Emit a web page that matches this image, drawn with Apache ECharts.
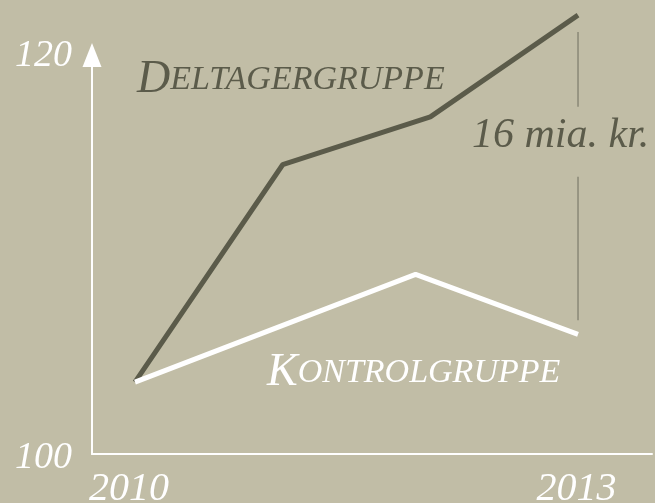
<!DOCTYPE html>
<html>
<head>
<meta charset="utf-8">
<script src="https://cdn.jsdelivr.net/npm/echarts@6/dist/echarts.min.js"></script>
<style>
html,body{margin:0;padding:0;background:#c1bda6;}
#chart{width:655px;height:503px;}
</style>
</head>
<body>
<div id="chart"></div>
<script>
// Data
const deltagerYears = [2010, 2011, 2012, 2013];
const deltagerValues = [103.6, 114.5, 116.9, 122.0];
const kontrolYears = [2010, 2011.9, 2013];
const kontrolValues = [103.6, 109.0, 106.0];
const xTickLabels = [2010, 2013];
const yTickLabels = [100, 120];
const gapLabel = '16 mia. kr.';
const deltagerName = 'Deltagergruppe';
const kontrolName = 'Kontrolgruppe';

const FONT = '"Liberation Serif", "DejaVu Serif", serif';
const BG = '#c1bda6';
const DARK = '#5b5b4a';
const BRACKET = '#8a8876';

function zip(xs, ys) { return xs.map((x, i) => [x, ys[i]]); }
function smallCaps(name) {
  return '{a|' + name[0].toUpperCase() + '}{b|' + name.slice(1).toUpperCase() + '}';
}

const chart = echarts.init(document.getElementById('chart'), null, {renderer: 'canvas'});
const lastX = deltagerYears[deltagerYears.length - 1];
const topV = deltagerValues[deltagerValues.length - 1];
const botV = kontrolValues[kontrolValues.length - 1];

function bracketSeries(a, b) {
  return {
    type: 'line', clip: false, symbol: 'none', silent: true, z: 1,
    data: [[lastX, a], [lastX, b]],
    lineStyle: {color: BRACKET, width: 1.5}
  };
}

const xLabelFont = {fontFamily: FONT, fontStyle: 'italic', fontSize: 40, color: '#ffffff'};
const yLabelFont = {fontFamily: FONT, fontStyle: 'italic', fontSize: 38, color: '#ffffff'};

chart.setOption({
  backgroundColor: BG,
  animation: false,
  grid: {left: 92, right: 3, top: 55, bottom: 49, containLabel: false, outerBoundsMode: 'none'},
  xAxis: {
    type: 'value', min: 2009.709, max: 2013.501,
    axisLine: {show: true, lineStyle: {color: '#ffffff', width: 2}},
    axisTick: {show: false},
    splitLine: {show: false},
    axisLabel: Object.assign({
      customValues: xTickLabels, margin: 15,
      formatter: v => (v === xTickLabels[0] ? '{first|' + v + '}' : '{t|' + v + '}'),
      rich: {
        first: Object.assign({padding: [0, 12, 0, 0]}, xLabelFont),
        t: Object.assign({padding: [0, 3, 0, 0]}, xLabelFont)
      }
    }, xLabelFont)
  },
  yAxis: {
    type: 'value', min: 100, max: 120,
    axisLine: {show: true, symbol: ['none', 'triangle'], symbolSize: [19, 24],
      lineStyle: {color: '#ffffff', width: 2}},
    axisTick: {show: false},
    splitLine: {show: false},
    axisLabel: Object.assign({
      customValues: yTickLabels, margin: 18,
      formatter: v => (v === yTickLabels[0] ? '{low|' + v + '}' : '{t|' + v + '}'),
      rich: {
        low: Object.assign({padding: [9, 2, 0, 0]}, yLabelFont),
        t: Object.assign({padding: [2, 2, 0, 0]}, yLabelFont)
      }
    }, yLabelFont)
  },
  series: [
    bracketSeries(topV - 0.85, topV - 4.6),
    bracketSeries(botV + 7.9, botV + 0.7),
    {
      name: deltagerName, type: 'line', clip: false, symbol: 'none', z: 2,
      data: zip(deltagerYears, deltagerValues),
      lineStyle: {color: DARK, width: 5}
    },
    {
      name: kontrolName, type: 'line', clip: false, symbol: 'none', z: 3,
      data: zip(kontrolYears, kontrolValues),
      lineStyle: {color: '#ffffff', width: 5}
    }
  ],
  graphic: [
    {
      type: 'text', left: 137, top: 57, silent: true,
      style: {
        text: smallCaps(deltagerName),
        fill: DARK, fontFamily: FONT, fontStyle: 'italic',
        rich: {
          a: {fontSize: 46, fontFamily: FONT, fontStyle: 'italic', fill: DARK},
          b: {fontSize: 34, fontFamily: FONT, fontStyle: 'italic', fill: DARK}
        }
      }
    },
    {
      type: 'text', left: 267, top: 350, silent: true,
      style: {
        text: smallCaps(kontrolName),
        fill: '#ffffff', fontFamily: FONT, fontStyle: 'italic',
        rich: {
          a: {fontSize: 46, fontFamily: FONT, fontStyle: 'italic', fill: '#ffffff'},
          b: {fontSize: 34, fontFamily: FONT, fontStyle: 'italic', fill: '#ffffff'}
        }
      }
    },
    {
      type: 'text', left: 472, top: 115, silent: true,
      style: {
        text: gapLabel, fill: DARK, fontFamily: FONT, fontStyle: 'italic', fontSize: 42
      }
    }
  ]
});
</script>
</body>
</html>
